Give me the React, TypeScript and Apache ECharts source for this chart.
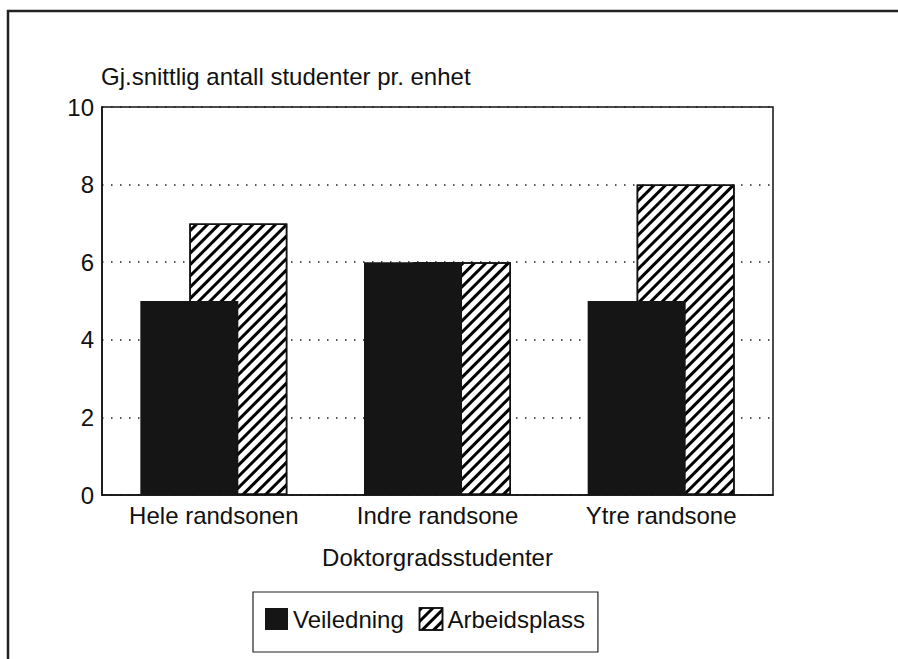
import React, { useEffect, useRef } from "react";
import * as echarts from "echarts";

const categories = ["Hele randsonen", "Indre randsone", "Ytre randsone"];
const veiledning = [5, 6, 5];
const arbeidsplass = [7, 6, 8];
const seriesNames = ["Veiledning", "Arbeidsplass"];
const yTitle = "Gj.snittlig antall studenter pr. enhet";
const xTitle = "Doktorgradsstudenter";

const FONT = "'Liberation Sans', Arial, Helvetica, sans-serif";
const FS = 24;

const hatch = {
  symbol: "rect",
  symbolSize: 1,
  dashArrayX: [1, 0],
  dashArrayY: [2.2, 4.1],
  rotation: -Math.PI / 4,
  color: "#000",
};

export default function App() {
  const ref = useRef<HTMLDivElement>(null);
  useEffect(() => {
    if (!ref.current) return;
    const chart = echarts.init(ref.current, null, { renderer: "svg" });
    chart.setOption({
      animation: false,
      backgroundColor: "#fff",
      textStyle: { fontFamily: FONT, color: "#111" },
      title: {
        text: yTitle,
        left: 101,
        top: 64,
        padding: 0,
        textStyle: { fontFamily: FONT, fontSize: FS, fontWeight: "normal", color: "#111" },
      },
      graphic: [
        {
          type: "polyline",
          shape: { points: [[8, 659], [8, 11], [898, 11]] },
          style: { stroke: "#222", lineWidth: 2.5, fill: null },
        },
      ],
      grid: {
        left: 102,
        right: 125,
        top: 107,
        bottom: 164,
        show: true,
        borderColor: "#111",
        borderWidth: 1.5,
        backgroundColor: "transparent",
      },
      legend: {
        left: 253,
        top: 592,
        orient: "horizontal",
        padding: [15, 13, 21, 12],
        itemGap: 15,
        itemWidth: 23,
        itemHeight: 22,
        borderColor: "#222",
        borderWidth: 1.2,
        textStyle: { fontFamily: FONT, fontSize: FS, color: "#111" },
        data: [
          { name: seriesNames[0], icon: "rect", itemStyle: { color: "#151515", borderWidth: 0 } },
          {
            name: seriesNames[1],
            icon: "rect",
            itemStyle: { color: "#fff", borderColor: "#111", borderWidth: 1.5, decal: hatch },
          },
        ],
      },
      xAxis: {
        type: "category",
        data: categories,
        name: xTitle,
        nameLocation: "middle",
        nameGap: 50,
        nameTextStyle: { fontFamily: FONT, fontSize: FS, color: "#111" },
        axisLine: { show: true, lineStyle: { color: "#111", width: 1.5 } },
        axisTick: { show: false },
        axisLabel: { fontFamily: FONT, fontSize: FS, color: "#111", margin: 8 },
      },
      yAxis: {
        type: "value",
        min: 0,
        max: 10,
        interval: 2,
        axisLine: { show: true, lineStyle: { color: "#111", width: 1.5 } },
        axisTick: { show: false },
        axisLabel: { fontFamily: FONT, fontSize: FS, color: "#111", margin: 8 },
        splitLine: { show: true, lineStyle: { color: "#222", width: 1.5, type: [1.5, 7.5] } },
      },
      series: [
        {
          name: seriesNames[0],
          type: "bar",
          data: veiledning,
          barWidth: 98,
          barGap: "-50%",
          z: 3,
          itemStyle: { color: "#151515" },
        },
        {
          name: seriesNames[1],
          type: "bar",
          data: arbeidsplass,
          barWidth: 98,
          barGap: "-50%",
          z: 2,
          itemStyle: { color: "#fff", borderColor: "#111", borderWidth: 1.5, decal: hatch },
        },
      ],
    });
    return () => chart.dispose();
  }, []);
  return (
    <div
      ref={ref}
      style={{ position: "absolute", left: 0, top: 0, width: 898, height: 659 }}
    />
  );
}
